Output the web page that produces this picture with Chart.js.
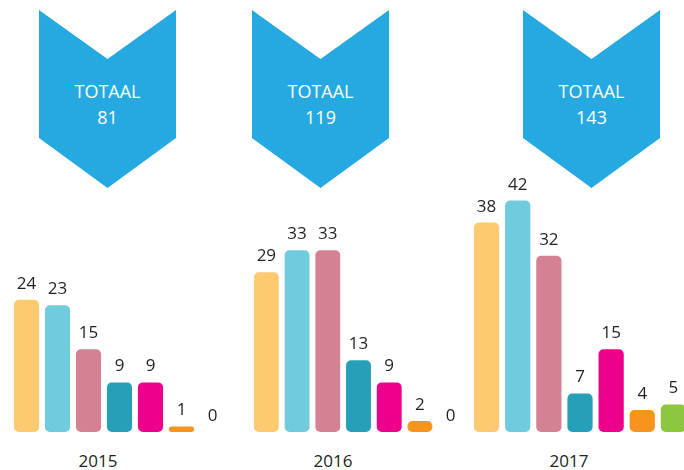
<!DOCTYPE html>
<html>
<head>
<meta charset="utf-8">
<script src="https://cdn.jsdelivr.net/npm/chart.js@4"></script>
<style>
  body { margin: 0; background: #fff; width: 684px; height: 470px; overflow: hidden; position: relative; font-family: "Open Sans", sans-serif; }
  canvas { position: absolute; }
  .chevron {
    position: absolute; top: 10px; width: 137px; height: 178px; background: #25a9e0;
    clip-path: polygon(0 0, 50% 49px, 100% 0, 100% 128px, 50% 100%, 0 128px);
    color: #fff; text-align: center; font-size: 18px;
  }
  .chevron .t1 { position: absolute; left: 0; right: 0; top: 69px; }
  .chevron .t2 { position: absolute; left: 0; right: 0; top: 95px; }
  .year { position: absolute; top: 449px; width: 80px; margin-left: -40px; text-align: center; font-size: 17px; color: #231f20; }
</style>
</head>
<body>
<div id="chev0" class="chevron" style="left:39px"><div class="t1">TOTAAL</div><div class="t2"></div></div>
<div id="chev1" class="chevron" style="left:252px"><div class="t1">TOTAAL</div><div class="t2"></div></div>
<div id="chev2" class="chevron" style="left:523px"><div class="t1">TOTAAL</div><div class="t2"></div></div>

<canvas id="c0" width="217" height="270" style="left:11px;top:162px"></canvas>
<canvas id="c1" width="215" height="270" style="left:251px;top:162px"></canvas>
<canvas id="c2" width="218" height="270" style="left:471px;top:162px"></canvas>

<div id="y0" class="year" style="left:98px"></div>
<div id="y1" class="year" style="left:333px"></div>
<div id="y2" class="year" style="left:569px"></div>

<script>
const years = ["2015", "2016", "2017"];
const categories = ["1", "2", "3", "4", "5", "6", "7"];
const values2015 = [24, 23, 15, 9, 9, 1, 0];
const values2016 = [29, 33, 33, 13, 9, 2, 0];
const values2017 = [38, 42, 32, 7, 15, 4, 5];
const barColors = ["#fdc971", "#6fcbdd", "#d38193", "#26a0b8", "#ec008c", "#f7941e", "#8dc63f"];

// value above each bar
const valueLabels = {
  id: "valueLabels",
  afterDatasetsDraw(chart) {
    const ctx = chart.ctx;
    const meta = chart.getDatasetMeta(0);
    const data = chart.data.datasets[0].data;
    ctx.save();
    ctx.font = "17px 'Open Sans'";
    ctx.fillStyle = "#231f20";
    ctx.textAlign = "center";
    ctx.textBaseline = "alphabetic";
    meta.data.forEach((bar, i) => {
      ctx.fillText(String(data[i]), bar.x, bar.y - 11);
    });
    ctx.restore();
  },
};

function makeChart(id, values) {
  return new Chart(document.getElementById(id), {
    type: "bar",
    data: {
      labels: categories,
      datasets: [
        {
          data: values,
          backgroundColor: barColors,
          borderRadius: 5,
          borderSkipped: false,
          barPercentage: 0.81,
          categoryPercentage: 1,
        },
      ],
    },
    options: {
      responsive: false,
      animation: false,
      devicePixelRatio: 1,
      layout: { padding: 0 },
      plugins: { legend: { display: false }, tooltip: { enabled: false } },
      scales: {
        x: { display: false },
        y: { display: false, min: 0, max: 49 },
      },
    },
    plugins: [valueLabels],
  });
}

const allValues = [values2015, values2016, values2017];
allValues.forEach((vals, i) => {
  makeChart("c" + i, vals);
  const total = vals.reduce((a, b) => a + b, 0);
  document.querySelector("#chev" + i + " .t2").textContent = total;
  document.getElementById("y" + i).textContent = years[i];
});
</script>
</body>
</html>
